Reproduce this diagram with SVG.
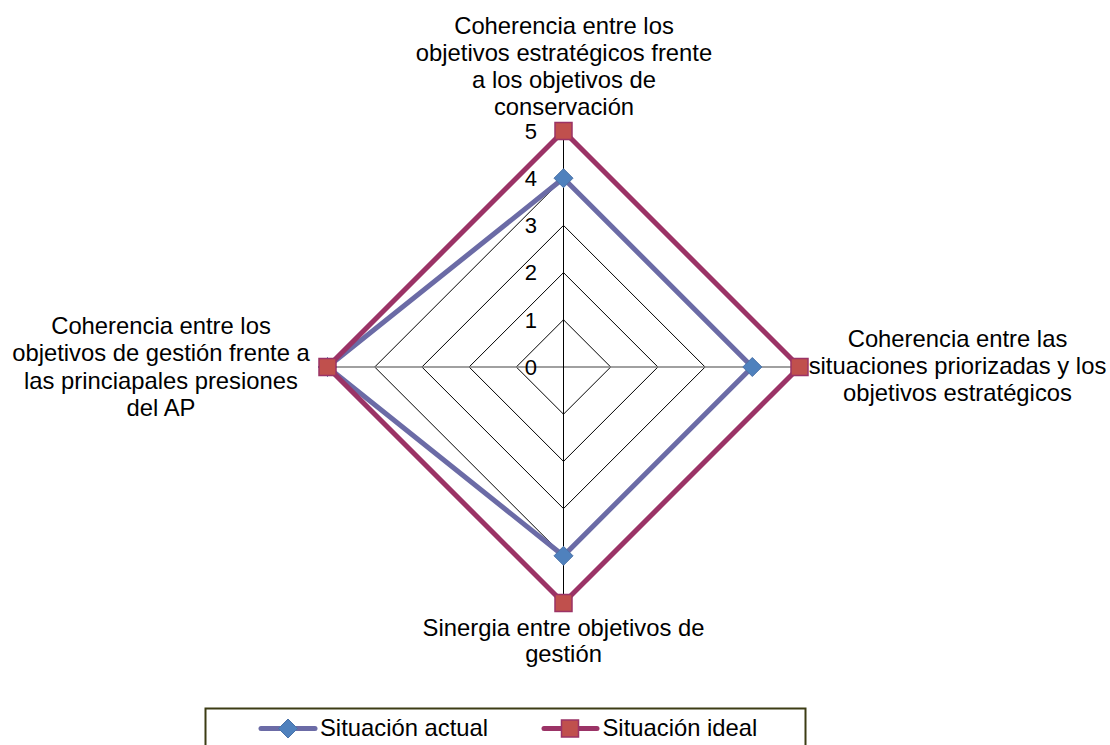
<svg xmlns="http://www.w3.org/2000/svg" width="1110" height="745" viewBox="0 0 1110 745">
<style>
.lbl{font-family:"Liberation Sans",Arial,sans-serif;font-size:23.8px;fill:#000;text-anchor:middle}
.tick{font-family:"Liberation Sans",Arial,sans-serif;font-size:22px;fill:#000;text-anchor:end}
.leg{font-family:"Liberation Sans",Arial,sans-serif;font-size:23.8px;fill:#000}
.ring{fill:none;stroke:#000;stroke-width:1}
.act{fill:none;stroke:#6B6BA6;stroke-width:5;stroke-linejoin:miter}
.ide{fill:none;stroke:#9B3366;stroke-width:5;stroke-linejoin:miter}
.dm{fill:#4F81BD;stroke:#4A72A8;stroke-width:1}
.sq{fill:#C0504D;stroke:#9B3366;stroke-width:1.5}
</style>
<defs>
<path id="diamond" d="M0,-9.5 L9.5,0 L0,9.5 L-9.5,0 Z"/>
<rect id="square" x="-8.5" y="-8.5" width="17" height="17"/>
</defs>
<rect x="0" y="0" width="1110" height="745" fill="#fff"/>
<g id="grid">
<polygon class="ring" points="563.5,319.8 610.7,367 563.5,414.2 516.3,367"/>
<polygon class="ring" points="563.5,272.6 657.9,367 563.5,461.4 469.1,367"/>
<polygon class="ring" points="563.5,225.4 705.1,367 563.5,508.6 421.9,367"/>
<polygon class="ring" points="563.5,178.2 752.3,367 563.5,555.8 374.7,367"/>
<polygon class="ring" points="563.5,131 799.5,367 563.5,603 327.5,367"/>
<line x1="327.5" y1="367" x2="799.5" y2="367" stroke="#808080" stroke-width="1.5"/>
<line x1="563.5" y1="131" x2="563.5" y2="603" stroke="#000" stroke-width="1"/>
</g>
<g id="ticks">
<text class="tick" x="537" y="374.8">0</text>
<text class="tick" x="537" y="327.6">1</text>
<text class="tick" x="537" y="280.4">2</text>
<text class="tick" x="537" y="233.2">3</text>
<text class="tick" x="537" y="186">4</text>
<text class="tick" x="537" y="138.8">5</text>
</g>
<g id="connectors">
<polygon id="series-actual" class="act" points="563.5,178.2 752.3,367 563.5,555.8 327.5,367"/>
<g id="markers-actual">
<use href="#diamond" class="dm" x="563.5" y="178.2"/>
<use href="#diamond" class="dm" x="752.3" y="367"/>
<use href="#diamond" class="dm" x="563.5" y="555.8"/>
<use href="#diamond" class="dm" x="327.5" y="367"/>
</g>
<polygon id="series-ideal" class="ide" points="563.5,131 799.5,367 563.5,603 327.5,367"/>
<g id="markers-ideal">
<use href="#square" class="sq" x="563.5" y="131"/>
<use href="#square" class="sq" x="799.5" y="367"/>
<use href="#square" class="sq" x="563.5" y="603"/>
<use href="#square" class="sq" x="327.5" y="367"/>
</g>
</g>
<g id="node-top">
<text class="lbl" x="564" y="33.5">Coherencia entre los</text>
<text class="lbl" x="564" y="61">objetivos estratégicos frente</text>
<text class="lbl" x="564" y="88">a los objetivos de</text>
<text class="lbl" x="564" y="115">conservación</text>
</g>
<g id="node-right">
<text class="lbl" x="957.5" y="346.5">Coherencia entre las</text>
<text class="lbl" x="957.5" y="374">situaciones priorizadas y los</text>
<text class="lbl" x="957.5" y="401">objetivos estratégicos</text>
</g>
<g id="node-bottom">
<text class="lbl" x="563.5" y="635.5">Sinergia entre objetivos de</text>
<text class="lbl" x="563.5" y="662">gestión</text>
</g>
<g id="node-left">
<text class="lbl" x="161" y="333.5">Coherencia entre los</text>
<text class="lbl" x="161" y="361">objetivos de gestión frente a</text>
<text class="lbl" x="161" y="388.5">las princiapales presiones</text>
<text class="lbl" x="161" y="415.5">del AP</text>
</g>
<g id="legend">
<rect x="205.5" y="708.5" width="600" height="60" fill="#fff" stroke="#3C3C14" stroke-width="2"/>
<line x1="261" y1="728.5" x2="315" y2="728.5" stroke="#6B6BA6" stroke-width="5" stroke-linecap="round"/>
<use href="#diamond" class="dm" x="288" y="728.5"/>
<text class="leg" x="320" y="736">Situación actual</text>
<line x1="544" y1="728.5" x2="597" y2="728.5" stroke="#9B3366" stroke-width="5" stroke-linecap="round"/>
<use href="#square" class="sq" x="570" y="728.5"/>
<text class="leg" x="602.5" y="736">Situación ideal</text>
</g>
</svg>
